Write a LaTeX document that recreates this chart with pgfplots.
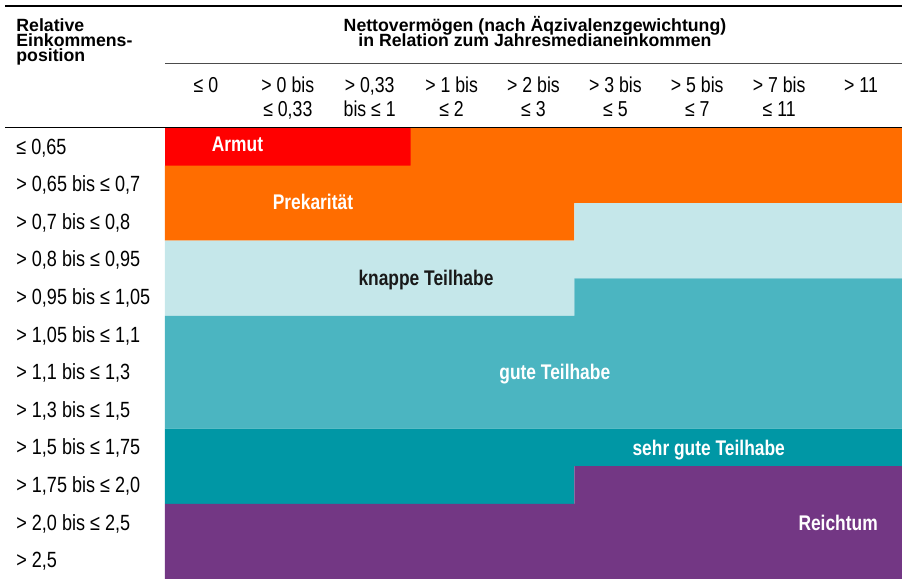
\documentclass[border=0pt]{standalone}
\usepackage{pgfplots}
\pgfplotsset{compat=1.18}
\usepackage{fontspec}
\setmainfont[FakeStretch=0.82]{Liberation Sans}
\newfontfamily\hdrfont{Liberation Sans}
\definecolor{cArmut}{HTML}{FF0000}
\definecolor{cPrek}{HTML}{FF6D00}
\definecolor{cKnapp}{HTML}{C5E7EA}
\definecolor{cGut}{HTML}{4BB5C1}
\definecolor{cSehr}{HTML}{0097A5}
\definecolor{cReich}{HTML}{733784}
\tikzset{lab/.style={font=\bfseries\fontsize{10.6}{12}\selectfont, anchor=base, inner sep=0pt, text=white}}
\begin{document}
\begin{tikzpicture}
\useasboundingbox (0,0) rectangle (451pt,289.5pt);
\begin{axis}[
  at={(82.5pt,0pt)}, anchor=south west,
  scale only axis, width=368.5pt, height=225.5pt,
  xmin=0, xmax=9, ymin=0, ymax=12,
  axis line style={draw=none}, tick style={draw=none},
  clip=false,
  xtick={0.5,1.5,2.5,3.5,4.5,5.5,6.5,7.5,8.5},
  xticklabel pos=upper,
  xticklabels={{≤ 0\\\strut},{> 0 bis\\≤ 0,33},{> 0,33\\bis ≤ 1},{> 1 bis\\≤ 2},{> 2 bis\\≤ 3},{> 3 bis\\≤ 5},{> 5 bis\\≤ 7},{> 7 bis\\≤ 11},{> 11\\\strut}},
  xticklabel style={font=\fontsize{10.8}{12}\selectfont, align=center, anchor=base, inner sep=0pt, yshift=5.5pt},
  ytick={0.5,1.5,2.5,3.5,4.5,5.5,6.5,7.5,8.5,9.5,10.5,11.5},
  yticklabels={{> 2,5},{> 2,0 bis ≤ 2,5},{> 1,75 bis ≤ 2,0},{> 1,5 bis ≤ 1,75},{> 1,3 bis ≤ 1,5},{> 1,1 bis ≤ 1,3},{> 1,05 bis ≤ 1,1},{> 0,95 bis ≤ 1,05},{> 0,8 bis ≤ 0,95},{> 0,7 bis ≤ 0,8},{> 0,65 bis ≤ 0,7},{≤ 0,65}},
  yticklabel style={font=\fontsize{11}{12}\selectfont, anchor=base west, inner sep=0pt, xshift=-74.5pt, yshift=-3.7pt},
]
% Armut
\addplot[draw=none, fill=cArmut] coordinates {(0,12) (3,12) (3,11) (0,11)} -- cycle;
% Prekaritaet
\addplot[draw=none, fill=cPrek] coordinates {(3,12) (9,12) (9,10) (5,10) (5,9) (0,9) (0,11) (3,11)} -- cycle;
% knappe Teilhabe
\addplot[draw=none, fill=cKnapp] coordinates {(0,9) (5,9) (5,10) (9,10) (9,8) (5,8) (5,7) (0,7)} -- cycle;
% gute Teilhabe
\addplot[draw=none, fill=cGut] coordinates {(0,7) (5,7) (5,8) (9,8) (9,4) (0,4)} -- cycle;
% sehr gute Teilhabe
\addplot[draw=none, fill=cSehr] coordinates {(0,4) (9,4) (9,3) (5,3) (5,2) (0,2)} -- cycle;
% Reichtum
\addplot[draw=none, fill=cReich] coordinates {(0,2) (5,2) (5,3) (9,3) (9,0) (0,0)} -- cycle;

\node[lab] at (axis cs:0.885,11.37) {Armut};
\node[lab] at (axis cs:1.807,9.82) {Prekarität};
\node[lab, text=black!90] at (axis cs:3.187,7.80) {knappe Teilhabe};
\node[lab] at (axis cs:4.76,5.30) {gute Teilhabe};
\node[lab] at (axis cs:6.64,3.28) {sehr gute Teilhabe};
\node[lab] at (axis cs:8.22,1.29) {Reichtum};
\end{axis}
\draw[line width=1.15pt] (2.5pt,286.4pt) -- (451pt,286.4pt);
\draw[line width=0.5pt, color=black!70] (82.5pt,257.75pt) -- (451pt,257.75pt);
\draw[line width=0.6pt] (2.5pt,225.6pt) -- (451pt,225.6pt);
\begin{scope}[every node/.style={font=\hdrfont\bfseries\fontsize{8.85}{7.5}\selectfont, inner sep=0pt}]
\node[anchor=base west] at (8pt,273.5pt) {Relative};
\node[anchor=base west] at (8pt,266pt) {Einkommens-};
\node[anchor=base west] at (8pt,258.5pt) {position};
\node[anchor=base] at (267.5pt,273.5pt) {Nettovermögen (nach Äqzivalenzgewichtung)};
\node[anchor=base] at (267.5pt,266pt) {in Relation zum Jahresmedianeinkommen};
\end{scope}
\end{tikzpicture}
\end{document}
